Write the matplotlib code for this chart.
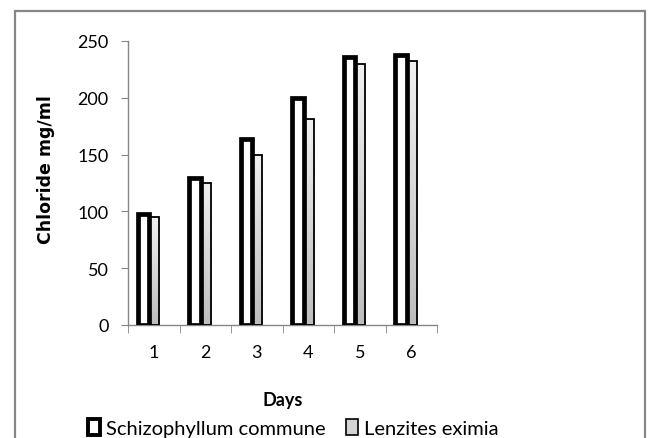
import numpy as np
import matplotlib
matplotlib.use("Agg")
import matplotlib.pyplot as plt
from matplotlib.patches import Rectangle
from matplotlib.colors import LinearSegmentedColormap

days = ["1", "2", "3", "4", "5", "6"]
schizophyllum = [98, 129, 164, 200, 236, 238]
lenzites = [95, 125, 150, 181, 230, 232]
series_names = ["Schizophyllum commune", "Lenzites eximia"]

body_font = ["Lato", "DejaVu Sans"]

fig = plt.figure(figsize=(6.5, 4.39), dpi=100)
fig.patches.append(Rectangle((15 / 650, -0.05), 630 / 650, 1 - 12 / 439 + 0.05,
                             transform=fig.transFigure, fill=False,
                             edgecolor="#878787", linewidth=1.6, zorder=0))

ax = fig.add_axes([128 / 650, 1 - 326 / 439, 309 / 650, 284 / 439])

x = np.arange(len(days))
w_s, w_l = 0.23, 0.22
off_s, off_l = -0.2, 0.0

gray_cmap = LinearSegmentedColormap.from_list("g", ["#f0f0f0", "#bdbdbd"])
grad = np.linspace(0, 1, 256).reshape(-1, 1)

bars_l = ax.bar(x + off_l, lenzites, width=w_l, facecolor="none",
                edgecolor="black", linewidth=1.3, zorder=3)
for b in bars_l:
    x0, y0, bw, bh = b.get_x(), b.get_y(), b.get_width(), b.get_height()
    im = ax.imshow(grad, cmap=gray_cmap, aspect="auto",
                   extent=(x0, x0 + bw, y0, y0 + bh), origin="upper", zorder=2)
    im.set_clip_path(b)

ax.bar(x + off_s, schizophyllum, width=w_s, facecolor="white",
       edgecolor="black", linewidth=3.4, zorder=4)

ax.set_xlim(-0.5, len(days) - 0.5)
ax.set_ylim(0, 250)
ax.set_yticks(np.arange(0, 251, 50))
ax.set_xticks(x)
ax.set_xticklabels(days)
ax.set_xticks(np.arange(-0.5, len(days)), minor=True)

for s in ["top", "right"]:
    ax.spines[s].set_visible(False)
for s in ["left", "bottom"]:
    ax.spines[s].set_color("#868686")
    ax.spines[s].set_linewidth(1.0)

ax.tick_params(axis="y", length=5, color="#868686", pad=9, labelsize=13)
ax.tick_params(axis="x", which="major", length=0, pad=14, labelsize=13)
ax.tick_params(axis="x", which="minor", length=6, color="#868686")
for lbl in ax.get_xticklabels() + ax.get_yticklabels():
    lbl.set_family(body_font)

ax.set_ylabel("Chloride mg/ml", fontsize=12.5, fontweight="bold",
              family="DejaVu Sans", labelpad=16)
ax.yaxis.label.set_y(0.55)
ax.set_xlabel("Days", fontsize=13, fontweight="bold", family=body_font, labelpad=22)

handles = [
    Rectangle((0, 0), 1, 1, facecolor="white", edgecolor="black", linewidth=2.8),
    Rectangle((0, 0), 1, 1, facecolor="#d4d4d4", edgecolor="black", linewidth=1.2),
]
fig.legend(handles, series_names, loc="center", bbox_to_anchor=(293 / 650, 1 - 429 / 439),
           ncol=2, frameon=False, prop={"family": body_font, "size": 14.5},
           handlelength=0.6, handleheight=0.8, handletextpad=0.3, columnspacing=1.0,
           borderpad=0)

fig.savefig("out.png", dpi=100)
